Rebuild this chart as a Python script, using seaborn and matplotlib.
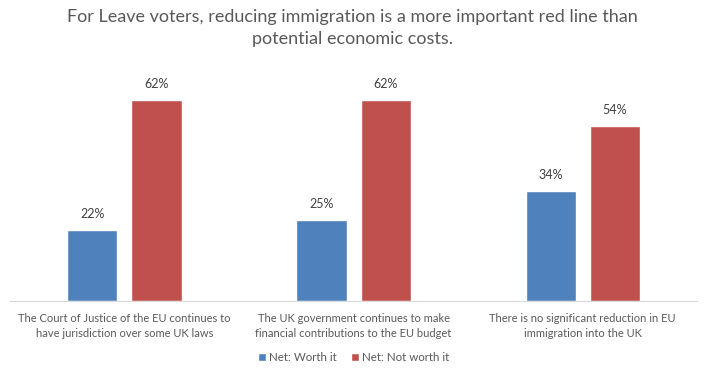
import matplotlib
matplotlib.use("Agg")
import matplotlib.pyplot as plt
import seaborn as sns
import pandas as pd

categories = [
    "The Court of Justice of the EU continues to\nhave jurisdiction over some UK laws",
    "The UK government continues to make\nfinancial contributions to the EU budget",
    "There is no significant reduction in EU\nimmigration into the UK",
]
series = ["Net: Worth it", "Net: Not worth it"]
worth_it = [22, 25, 34]
not_worth_it = [62, 62, 54]

df = pd.DataFrame({
    "category": categories * 2,
    "series": [series[0]] * 3 + [series[1]] * 3,
    "value": worth_it + not_worth_it,
})

sns.set_style("white")
plt.rcParams["font.family"] = ["Lato", "DejaVu Sans"]
grey = "#595959"

fig = plt.figure(figsize=(7.05, 3.78), dpi=100)
ax = fig.add_axes([0.014, 0.204, 0.975, 0.6])

sns.barplot(data=df, x="category", y="value", hue="series",
            palette=["#4F81BD", "#C0504D"], saturation=1,
            width=0.56, gap=0.22, ax=ax, legend=True)

for cont in ax.containers:
    ax.bar_label(cont, labels=[f"{v:.0f}%" for v in cont.datavalues],
                 padding=7, fontsize=9, color="#404040")

ax.set_ylim(0, 70)
ax.set_xlim(-0.5, 2.5)
ax.set_yticks([])
ax.set_xlabel("")
ax.set_ylabel("")
ax.tick_params(axis="x", length=0, pad=9, labelsize=8, labelcolor=grey)
for lbl in ax.get_xticklabels():
    lbl.set_linespacing(1.35)
for s in ["top", "left", "right"]:
    ax.spines[s].set_visible(False)
ax.spines["bottom"].set_color("#D9D9D9")

ax.legend(loc="center", bbox_to_anchor=(0.5, -0.25), ncol=2,
          frameon=False, fontsize=8.3, labelcolor=grey,
          handlelength=0.7, handleheight=0.7, handletextpad=0.3,
          columnspacing=1.2)

fig.suptitle("For Leave voters, reducing immigration is a more important red line than\npotential economic costs.",
             y=0.975, fontsize=13, color=grey, linespacing=1.45)

fig.savefig("out.png", dpi=100)
